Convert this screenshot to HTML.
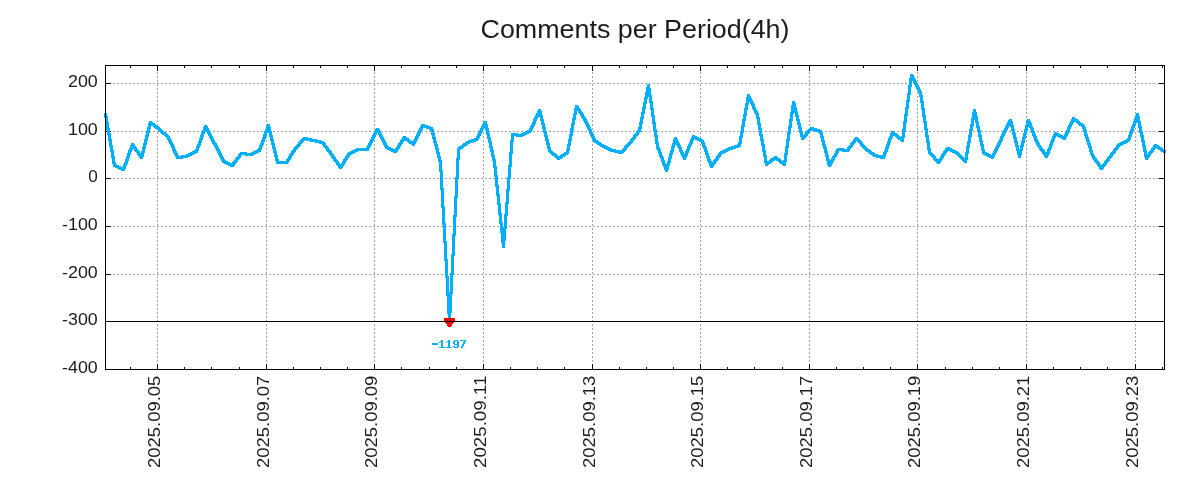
<!DOCTYPE html>
<html><head><meta charset="utf-8"><style>
html,body{margin:0;padding:0;background:#fff;}
svg{display:block;will-change:transform;}
.t{font-family:"Liberation Sans",sans-serif;font-size:17px;fill:#1c1c1c;}
.g{stroke:#a0a0a0;stroke-width:1;stroke-dasharray:2 2;}
</style></head><body>
<svg width="1200" height="500" viewBox="0 0 1200 500">
<rect width="1200" height="500" fill="#fff"/>
<text x="635" y="37.8" text-anchor="middle" style="font-family:'Liberation Sans',sans-serif;font-size:25.5px;fill:#1c1c1c" textLength="309" lengthAdjust="spacingAndGlyphs">Comments per Period(4h)</text>
<g shape-rendering="crispEdges">
<line x1="113" y1="83.5" x2="1159" y2="83.5" class="g"/>
<line x1="113" y1="131.5" x2="1159" y2="131.5" class="g"/>
<line x1="113" y1="178.5" x2="1159" y2="178.5" class="g"/>
<line x1="113" y1="226.5" x2="1159" y2="226.5" class="g"/>
<line x1="113" y1="274.5" x2="1159" y2="274.5" class="g"/>
<line x1="157.5" y1="72" x2="157.5" y2="364" class="g"/>
<line x1="266.5" y1="72" x2="266.5" y2="364" class="g"/>
<line x1="374.5" y1="72" x2="374.5" y2="364" class="g"/>
<line x1="483.5" y1="72" x2="483.5" y2="364" class="g"/>
<line x1="592.5" y1="72" x2="592.5" y2="364" class="g"/>
<line x1="700.5" y1="72" x2="700.5" y2="364" class="g"/>
<line x1="809.5" y1="72" x2="809.5" y2="364" class="g"/>
<line x1="917.5" y1="72" x2="917.5" y2="364" class="g"/>
<line x1="1026.5" y1="72" x2="1026.5" y2="364" class="g"/>
<line x1="1135.5" y1="72" x2="1135.5" y2="364" class="g"/>
</g>
<g fill="#000" shape-rendering="crispEdges">
<rect x="105" y="83" width="6" height="1"/><rect x="1159" y="83" width="6" height="1"/>
<rect x="105" y="131" width="6" height="1"/><rect x="1159" y="131" width="6" height="1"/>
<rect x="105" y="178" width="6" height="1"/><rect x="1159" y="178" width="6" height="1"/>
<rect x="105" y="226" width="6" height="1"/><rect x="1159" y="226" width="6" height="1"/>
<rect x="105" y="274" width="6" height="1"/><rect x="1159" y="274" width="6" height="1"/>
<rect x="105" y="321" width="6" height="1"/><rect x="1159" y="321" width="6" height="1"/>
<rect x="105" y="369" width="6" height="1"/><rect x="1159" y="369" width="6" height="1"/>
<rect x="130" y="367" width="1" height="3"/><rect x="130" y="65" width="1" height="3"/>
<rect x="157" y="364" width="1" height="6"/><rect x="157" y="65" width="1" height="6"/>
<rect x="184" y="367" width="1" height="3"/><rect x="184" y="65" width="1" height="3"/>
<rect x="211" y="367" width="1" height="3"/><rect x="211" y="65" width="1" height="3"/>
<rect x="239" y="367" width="1" height="3"/><rect x="239" y="65" width="1" height="3"/>
<rect x="266" y="364" width="1" height="6"/><rect x="266" y="65" width="1" height="6"/>
<rect x="293" y="367" width="1" height="3"/><rect x="293" y="65" width="1" height="3"/>
<rect x="320" y="367" width="1" height="3"/><rect x="320" y="65" width="1" height="3"/>
<rect x="347" y="367" width="1" height="3"/><rect x="347" y="65" width="1" height="3"/>
<rect x="374" y="364" width="1" height="6"/><rect x="374" y="65" width="1" height="6"/>
<rect x="401" y="367" width="1" height="3"/><rect x="401" y="65" width="1" height="3"/>
<rect x="429" y="367" width="1" height="3"/><rect x="429" y="65" width="1" height="3"/>
<rect x="456" y="367" width="1" height="3"/><rect x="456" y="65" width="1" height="3"/>
<rect x="483" y="364" width="1" height="6"/><rect x="483" y="65" width="1" height="6"/>
<rect x="510" y="367" width="1" height="3"/><rect x="510" y="65" width="1" height="3"/>
<rect x="537" y="367" width="1" height="3"/><rect x="537" y="65" width="1" height="3"/>
<rect x="564" y="367" width="1" height="3"/><rect x="564" y="65" width="1" height="3"/>
<rect x="592" y="364" width="1" height="6"/><rect x="592" y="65" width="1" height="6"/>
<rect x="619" y="367" width="1" height="3"/><rect x="619" y="65" width="1" height="3"/>
<rect x="646" y="367" width="1" height="3"/><rect x="646" y="65" width="1" height="3"/>
<rect x="673" y="367" width="1" height="3"/><rect x="673" y="65" width="1" height="3"/>
<rect x="700" y="364" width="1" height="6"/><rect x="700" y="65" width="1" height="6"/>
<rect x="727" y="367" width="1" height="3"/><rect x="727" y="65" width="1" height="3"/>
<rect x="754" y="367" width="1" height="3"/><rect x="754" y="65" width="1" height="3"/>
<rect x="782" y="367" width="1" height="3"/><rect x="782" y="65" width="1" height="3"/>
<rect x="809" y="364" width="1" height="6"/><rect x="809" y="65" width="1" height="6"/>
<rect x="836" y="367" width="1" height="3"/><rect x="836" y="65" width="1" height="3"/>
<rect x="863" y="367" width="1" height="3"/><rect x="863" y="65" width="1" height="3"/>
<rect x="890" y="367" width="1" height="3"/><rect x="890" y="65" width="1" height="3"/>
<rect x="917" y="364" width="1" height="6"/><rect x="917" y="65" width="1" height="6"/>
<rect x="945" y="367" width="1" height="3"/><rect x="945" y="65" width="1" height="3"/>
<rect x="972" y="367" width="1" height="3"/><rect x="972" y="65" width="1" height="3"/>
<rect x="999" y="367" width="1" height="3"/><rect x="999" y="65" width="1" height="3"/>
<rect x="1026" y="364" width="1" height="6"/><rect x="1026" y="65" width="1" height="6"/>
<rect x="1053" y="367" width="1" height="3"/><rect x="1053" y="65" width="1" height="3"/>
<rect x="1080" y="367" width="1" height="3"/><rect x="1080" y="65" width="1" height="3"/>
<rect x="1107" y="367" width="1" height="3"/><rect x="1107" y="65" width="1" height="3"/>
<rect x="1135" y="364" width="1" height="6"/><rect x="1135" y="65" width="1" height="6"/>
<rect x="1162" y="367" width="1" height="3"/><rect x="1162" y="65" width="1" height="3"/>
</g>
<path d="M104 113h1v5h-1zM105 113h1v11h-1zM106 113h1v17h-1zM107 116h1v19h-1zM108 122h1v19h-1zM109 128h1v19h-1zM110 133h1v19h-1zM111 139h1v19h-1zM112 145h1v19h-1zM113 150h1v17h-1zM114 156h1v11h-1zM115 162h1v6h-1zM116 164h1v4h-1zM117 165h1v4h-1zM118 165h1v4h-1zM119 166h1v4h-1zM120 166h1v4h-1zM121 167h1v4h-1zM122 167h1v4h-1zM123 164h1v7h-1zM124 162h1v9h-1zM125 159h1v10h-1zM126 156h1v10h-1zM127 153h1v11h-1zM128 150h1v11h-1zM129 148h1v10h-1zM130 145h1v10h-1zM131 143h1v9h-1zM132 143h1v7h-1zM133 143h1v6h-1zM134 144h1v7h-1zM135 146h1v6h-1zM136 147h1v6h-1zM137 149h1v6h-1zM138 150h1v6h-1zM139 151h1v7h-1zM140 153h1v6h-1zM141 151h1v8h-1zM142 147h1v12h-1zM143 143h1v14h-1zM144 139h1v14h-1zM145 135h1v14h-1zM146 131h1v14h-1zM147 127h1v14h-1zM148 123h1v14h-1zM149 121h1v12h-1zM150 121h1v8h-1zM151 121h1v5h-1zM152 122h1v4h-1zM153 123h1v4h-1zM154 123h1v5h-1zM155 124h1v5h-1zM156 125h1v4h-1zM157 126h1v4h-1zM158 126h1v5h-1zM159 127h1v5h-1zM160 128h1v5h-1zM161 129h1v5h-1zM162 130h1v5h-1zM163 131h1v4h-1zM164 132h1v4h-1zM165 132h1v5h-1zM166 133h1v5h-1zM167 134h1v6h-1zM168 135h1v7h-1zM169 136h1v8h-1zM170 138h1v8h-1zM171 140h1v8h-1zM172 142h1v9h-1zM173 144h1v9h-1zM174 146h1v9h-1zM175 149h1v8h-1zM176 151h1v8h-1zM177 153h1v6h-1zM178 155h1v4h-1zM179 156h1v3h-1zM180 156h1v3h-1zM181 155h1v4h-1zM182 155h1v4h-1zM183 155h1v3h-1zM184 155h1v3h-1zM185 155h1v3h-1zM186 154h1v4h-1zM187 154h1v4h-1zM188 153h1v4h-1zM189 153h1v4h-1zM190 152h1v4h-1zM191 152h1v4h-1zM192 151h1v4h-1zM193 151h1v4h-1zM194 150h1v4h-1zM195 149h1v5h-1zM196 146h1v7h-1zM197 144h1v9h-1zM198 141h1v10h-1zM199 138h1v10h-1zM200 135h1v11h-1zM201 132h1v11h-1zM202 130h1v10h-1zM203 127h1v10h-1zM204 125h1v9h-1zM205 125h1v7h-1zM206 125h1v7h-1zM207 126h1v8h-1zM208 128h1v8h-1zM209 130h1v8h-1zM210 132h1v8h-1zM211 134h1v8h-1zM212 136h1v8h-1zM213 138h1v7h-1zM214 140h1v7h-1zM215 142h1v7h-1zM216 143h1v8h-1zM217 145h1v8h-1zM218 147h1v8h-1zM219 149h1v8h-1zM220 151h1v8h-1zM221 153h1v8h-1zM222 155h1v8h-1zM223 157h1v6h-1zM224 159h1v5h-1zM225 160h1v4h-1zM226 161h1v4h-1zM227 161h1v4h-1zM228 162h1v4h-1zM229 162h1v4h-1zM230 163h1v4h-1zM231 163h1v4h-1zM232 162h1v5h-1zM233 161h1v6h-1zM234 160h1v6h-1zM235 158h1v6h-1zM236 157h1v6h-1zM237 156h1v6h-1zM238 154h1v6h-1zM239 153h1v6h-1zM240 152h1v6h-1zM241 152h1v4h-1zM242 152h1v3h-1zM243 152h1v3h-1zM244 152h1v3h-1zM245 152h1v4h-1zM246 152h1v4h-1zM247 153h1v3h-1zM248 153h1v3h-1zM249 153h1v3h-1zM250 153h1v3h-1zM251 152h1v4h-1zM252 152h1v4h-1zM253 151h1v4h-1zM254 151h1v4h-1zM255 150h1v4h-1zM256 150h1v4h-1zM257 149h1v4h-1zM258 148h1v5h-1zM259 145h1v7h-1zM260 143h1v9h-1zM261 140h1v10h-1zM262 137h1v10h-1zM263 134h1v11h-1zM264 131h1v11h-1zM265 129h1v10h-1zM266 126h1v10h-1zM267 124h1v9h-1zM268 124h1v9h-1zM269 124h1v13h-1zM270 127h1v14h-1zM271 131h1v14h-1zM272 135h1v14h-1zM273 139h1v14h-1zM274 143h1v14h-1zM275 147h1v14h-1zM276 151h1v13h-1zM277 155h1v9h-1zM278 159h1v5h-1zM279 161h1v3h-1zM280 161h1v3h-1zM281 161h1v3h-1zM282 161h1v3h-1zM283 161h1v3h-1zM284 161h1v3h-1zM285 161h1v3h-1zM286 159h1v5h-1zM287 158h1v6h-1zM288 156h1v7h-1zM289 154h1v7h-1zM290 153h1v7h-1zM291 151h1v7h-1zM292 150h1v6h-1zM293 148h1v7h-1zM294 147h1v6h-1zM295 146h1v6h-1zM296 145h1v5h-1zM297 144h1v5h-1zM298 142h1v6h-1zM299 141h1v6h-1zM300 140h1v6h-1zM301 139h1v5h-1zM302 138h1v5h-1zM303 137h1v5h-1zM304 137h1v4h-1zM305 137h1v3h-1zM306 137h1v4h-1zM307 137h1v4h-1zM308 138h1v3h-1zM309 138h1v3h-1zM310 138h1v4h-1zM311 138h1v4h-1zM312 139h1v3h-1zM313 139h1v3h-1zM314 139h1v3h-1zM315 139h1v4h-1zM316 139h1v4h-1zM317 140h1v3h-1zM318 140h1v3h-1zM319 140h1v4h-1zM320 140h1v4h-1zM321 141h1v3h-1zM322 141h1v4h-1zM323 141h1v6h-1zM324 142h1v6h-1zM325 143h1v6h-1zM326 145h1v6h-1zM327 146h1v6h-1zM328 147h1v6h-1zM329 149h1v6h-1zM330 150h1v6h-1zM331 151h1v7h-1zM332 153h1v6h-1zM333 154h1v7h-1zM334 156h1v6h-1zM335 157h1v6h-1zM336 159h1v6h-1zM337 160h1v6h-1zM338 161h1v7h-1zM339 163h1v6h-1zM340 164h1v5h-1zM341 163h1v6h-1zM342 161h1v7h-1zM343 159h1v7h-1zM344 158h1v7h-1zM345 156h1v7h-1zM346 155h1v6h-1zM347 153h1v7h-1zM348 152h1v6h-1zM349 152h1v5h-1zM350 151h1v4h-1zM351 151h1v4h-1zM352 150h1v4h-1zM353 150h1v4h-1zM354 149h1v4h-1zM355 149h1v4h-1zM356 148h1v4h-1zM357 148h1v4h-1zM358 148h1v3h-1zM359 148h1v3h-1zM360 148h1v3h-1zM361 148h1v3h-1zM362 148h1v3h-1zM363 148h1v3h-1zM364 148h1v3h-1zM365 148h1v3h-1zM366 147h1v4h-1zM367 145h1v6h-1zM368 143h1v8h-1zM369 141h1v8h-1zM370 139h1v8h-1zM371 137h1v8h-1zM372 135h1v8h-1zM373 133h1v8h-1zM374 131h1v8h-1zM375 129h1v8h-1zM376 128h1v7h-1zM377 128h1v5h-1zM378 128h1v7h-1zM379 129h1v8h-1zM380 131h1v8h-1zM381 133h1v8h-1zM382 135h1v8h-1zM383 137h1v8h-1zM384 139h1v8h-1zM385 141h1v8h-1zM386 143h1v6h-1zM387 145h1v5h-1zM388 146h1v4h-1zM389 147h1v4h-1zM390 147h1v4h-1zM391 148h1v4h-1zM392 148h1v4h-1zM393 149h1v4h-1zM394 149h1v4h-1zM395 148h1v5h-1zM396 147h1v6h-1zM397 145h1v7h-1zM398 143h1v7h-1zM399 142h1v7h-1zM400 140h1v7h-1zM401 139h1v6h-1zM402 137h1v7h-1zM403 136h1v6h-1zM404 136h1v5h-1zM405 136h1v5h-1zM406 137h1v4h-1zM407 138h1v4h-1zM408 138h1v5h-1zM409 139h1v5h-1zM410 140h1v4h-1zM411 141h1v4h-1zM412 141h1v5h-1zM413 140h1v6h-1zM414 138h1v8h-1zM415 136h1v8h-1zM416 134h1v8h-1zM417 132h1v8h-1zM418 130h1v8h-1zM419 128h1v8h-1zM420 126h1v8h-1zM421 124h1v8h-1zM422 124h1v6h-1zM423 124h1v4h-1zM424 124h1v4h-1zM425 125h1v3h-1zM426 125h1v4h-1zM427 125h1v4h-1zM428 126h1v3h-1zM429 126h1v4h-1zM430 126h1v5h-1zM431 127h1v8h-1zM432 127h1v12h-1zM433 129h1v14h-1zM434 133h1v13h-1zM435 137h1v13h-1zM436 141h1v13h-1zM437 144h1v14h-1zM438 148h1v14h-1zM439 152h1v20h-1zM440 156h1v34h-1zM441 160h1v48h-1zM442 170h1v55h-1zM443 188h1v55h-1zM444 206h1v55h-1zM445 223h1v55h-1zM446 241h1v55h-1zM447 259h1v55h-1zM448 276h1v47h-1zM449 292h1v31h-1zM450 273h1v50h-1zM451 254h1v59h-1zM452 234h1v60h-1zM453 215h1v60h-1zM454 196h1v60h-1zM455 177h1v59h-1zM456 158h1v59h-1zM457 148h1v50h-1zM458 147h1v32h-1zM459 146h1v14h-1zM460 146h1v4h-1zM461 145h1v4h-1zM462 144h1v5h-1zM463 143h1v5h-1zM464 143h1v4h-1zM465 142h1v4h-1zM466 141h1v5h-1zM467 141h1v4h-1zM468 140h1v4h-1zM469 140h1v4h-1zM470 140h1v3h-1zM471 139h1v4h-1zM472 139h1v4h-1zM473 139h1v3h-1zM474 138h1v4h-1zM475 138h1v4h-1zM476 136h1v5h-1zM477 134h1v7h-1zM478 132h1v8h-1zM479 130h1v8h-1zM480 128h1v8h-1zM481 126h1v8h-1zM482 124h1v8h-1zM483 122h1v8h-1zM484 121h1v7h-1zM485 121h1v9h-1zM486 121h1v14h-1zM487 124h1v15h-1zM488 128h1v15h-1zM489 133h1v15h-1zM490 137h1v15h-1zM491 141h1v16h-1zM492 146h1v15h-1zM493 150h1v18h-1zM494 155h1v22h-1zM495 159h1v28h-1zM496 166h1v30h-1zM497 175h1v30h-1zM498 185h1v30h-1zM499 194h1v30h-1zM500 203h1v30h-1zM501 213h1v30h-1zM502 222h1v26h-1zM503 227h1v21h-1zM504 214h1v34h-1zM505 202h1v39h-1zM506 189h1v40h-1zM507 177h1v39h-1zM508 165h1v39h-1zM509 152h1v39h-1zM510 140h1v39h-1zM511 133h1v34h-1zM512 133h1v21h-1zM513 133h1v9h-1zM514 133h1v3h-1zM515 133h1v3h-1zM516 133h1v4h-1zM517 133h1v4h-1zM518 134h1v3h-1zM519 134h1v3h-1zM520 134h1v3h-1zM521 133h1v4h-1zM522 133h1v4h-1zM523 132h1v4h-1zM524 132h1v4h-1zM525 131h1v4h-1zM526 131h1v4h-1zM527 130h1v4h-1zM528 130h1v4h-1zM529 128h1v5h-1zM530 126h1v7h-1zM531 124h1v8h-1zM532 122h1v8h-1zM533 119h1v9h-1zM534 117h1v9h-1zM535 115h1v9h-1zM536 113h1v8h-1zM537 111h1v8h-1zM538 109h1v8h-1zM539 109h1v8h-1zM540 109h1v12h-1zM541 111h1v14h-1zM542 115h1v14h-1zM543 119h1v14h-1zM544 123h1v14h-1zM545 127h1v14h-1zM546 131h1v14h-1zM547 135h1v14h-1zM548 139h1v13h-1zM549 143h1v10h-1zM550 147h1v7h-1zM551 150h1v5h-1zM552 151h1v5h-1zM553 152h1v4h-1zM554 153h1v4h-1zM555 153h1v5h-1zM556 154h1v5h-1zM557 155h1v5h-1zM558 156h1v4h-1zM559 156h1v4h-1zM560 155h1v4h-1zM561 154h1v5h-1zM562 154h1v4h-1zM563 153h1v4h-1zM564 152h1v5h-1zM565 152h1v4h-1zM566 149h1v6h-1zM567 144h1v11h-1zM568 139h1v15h-1zM569 134h1v17h-1zM570 128h1v18h-1zM571 123h1v18h-1zM572 118h1v18h-1zM573 113h1v17h-1zM574 108h1v17h-1zM575 105h1v15h-1zM576 105h1v10h-1zM577 105h1v6h-1zM578 106h1v7h-1zM579 108h1v6h-1zM580 109h1v7h-1zM581 111h1v7h-1zM582 112h1v7h-1zM583 114h1v7h-1zM584 116h1v7h-1zM585 117h1v8h-1zM586 119h1v8h-1zM587 121h1v8h-1zM588 123h1v8h-1zM589 125h1v9h-1zM590 127h1v9h-1zM591 129h1v9h-1zM592 132h1v8h-1zM593 134h1v8h-1zM594 136h1v7h-1zM595 138h1v5h-1zM596 140h1v4h-1zM597 140h1v5h-1zM598 141h1v4h-1zM599 142h1v4h-1zM600 142h1v5h-1zM601 143h1v4h-1zM602 144h1v4h-1zM603 144h1v4h-1zM604 145h1v4h-1zM605 145h1v4h-1zM606 146h1v4h-1zM607 146h1v4h-1zM608 147h1v4h-1zM609 147h1v4h-1zM610 148h1v4h-1zM611 148h1v4h-1zM612 149h1v3h-1zM613 149h1v3h-1zM614 149h1v4h-1zM615 149h1v4h-1zM616 150h1v3h-1zM617 150h1v3h-1zM618 150h1v4h-1zM619 150h1v4h-1zM620 151h1v3h-1zM621 150h1v4h-1zM622 149h1v5h-1zM623 148h1v5h-1zM624 146h1v6h-1zM625 145h1v6h-1zM626 144h1v6h-1zM627 143h1v5h-1zM628 142h1v5h-1zM629 141h1v5h-1zM630 139h1v6h-1zM631 138h1v6h-1zM632 137h1v6h-1zM633 135h1v6h-1zM634 134h1v6h-1zM635 133h1v6h-1zM636 131h1v6h-1zM637 130h1v6h-1zM638 127h1v8h-1zM639 122h1v11h-1zM640 117h1v15h-1zM641 112h1v17h-1zM642 107h1v17h-1zM643 102h1v17h-1zM644 97h1v17h-1zM645 92h1v17h-1zM646 87h1v17h-1zM647 84h1v15h-1zM648 84h1v13h-1zM649 84h1v19h-1zM650 88h1v22h-1zM651 95h1v22h-1zM652 101h1v23h-1zM653 108h1v23h-1zM654 115h1v22h-1zM655 122h1v22h-1zM656 129h1v20h-1zM657 135h1v16h-1zM658 142h1v12h-1zM659 147h1v10h-1zM660 149h1v10h-1zM661 152h1v10h-1zM662 155h1v10h-1zM663 157h1v10h-1zM664 160h1v10h-1zM665 163h1v9h-1zM666 164h1v8h-1zM667 161h1v11h-1zM668 157h1v13h-1zM669 153h1v13h-1zM670 150h1v13h-1zM671 146h1v13h-1zM672 143h1v12h-1zM673 139h1v13h-1zM674 137h1v11h-1zM675 137h1v8h-1zM676 137h1v8h-1zM677 139h1v8h-1zM678 141h1v8h-1zM679 143h1v9h-1zM680 145h1v9h-1zM681 147h1v9h-1zM682 150h1v8h-1zM683 152h1v8h-1zM684 154h1v6h-1zM685 151h1v9h-1zM686 149h1v9h-1zM687 146h1v10h-1zM688 144h1v9h-1zM689 142h1v9h-1zM690 139h1v9h-1zM691 137h1v9h-1zM692 135h1v9h-1zM693 135h1v6h-1zM694 135h1v4h-1zM695 136h1v4h-1zM696 136h1v4h-1zM697 137h1v4h-1zM698 137h1v4h-1zM699 138h1v4h-1zM700 138h1v4h-1zM701 139h1v5h-1zM702 139h1v8h-1zM703 140h1v9h-1zM704 142h1v10h-1zM705 145h1v10h-1zM706 147h1v11h-1zM707 150h1v11h-1zM708 153h1v10h-1zM709 156h1v10h-1zM710 159h1v9h-1zM711 161h1v7h-1zM712 162h1v6h-1zM713 160h1v7h-1zM714 159h1v6h-1zM715 158h1v6h-1zM716 156h1v6h-1zM717 155h1v6h-1zM718 153h1v7h-1zM719 152h1v6h-1zM720 151h1v6h-1zM721 151h1v4h-1zM722 150h1v4h-1zM723 150h1v4h-1zM724 149h1v4h-1zM725 149h1v4h-1zM726 148h1v4h-1zM727 148h1v4h-1zM728 147h1v4h-1zM729 147h1v4h-1zM730 147h1v3h-1zM731 146h1v4h-1zM732 146h1v4h-1zM733 146h1v3h-1zM734 145h1v4h-1zM735 145h1v4h-1zM736 145h1v3h-1zM737 144h1v4h-1zM738 142h1v6h-1zM739 136h1v11h-1zM740 131h1v16h-1zM741 125h1v19h-1zM742 119h1v19h-1zM743 114h1v19h-1zM744 108h1v19h-1zM745 103h1v18h-1zM746 97h1v19h-1zM747 94h1v16h-1zM748 94h1v11h-1zM749 94h1v8h-1zM750 96h1v8h-1zM751 98h1v8h-1zM752 100h1v9h-1zM753 102h1v9h-1zM754 104h1v9h-1zM755 107h1v8h-1zM756 109h1v10h-1zM757 111h1v14h-1zM758 113h1v17h-1zM759 117h1v19h-1zM760 123h1v18h-1zM761 128h1v18h-1zM762 134h1v18h-1zM763 139h1v18h-1zM764 144h1v19h-1zM765 150h1v16h-1zM766 155h1v11h-1zM767 161h1v5h-1zM768 161h1v4h-1zM769 160h1v4h-1zM770 159h1v5h-1zM771 158h1v5h-1zM772 158h1v4h-1zM773 157h1v4h-1zM774 156h1v5h-1zM775 156h1v4h-1zM776 156h1v5h-1zM777 157h1v4h-1zM778 158h1v4h-1zM779 158h1v5h-1zM780 159h1v5h-1zM781 160h1v4h-1zM782 161h1v4h-1zM783 160h1v6h-1zM784 153h1v13h-1zM785 146h1v20h-1zM786 139h1v23h-1zM787 132h1v23h-1zM788 126h1v22h-1zM789 119h1v22h-1zM790 112h1v22h-1zM791 105h1v23h-1zM792 101h1v20h-1zM793 101h1v13h-1zM794 101h1v12h-1zM795 103h1v14h-1zM796 107h1v14h-1zM797 111h1v14h-1zM798 115h1v14h-1zM799 119h1v14h-1zM800 123h1v14h-1zM801 127h1v13h-1zM802 131h1v9h-1zM803 135h1v5h-1zM804 134h1v5h-1zM805 132h1v6h-1zM806 131h1v6h-1zM807 130h1v6h-1zM808 129h1v5h-1zM809 128h1v5h-1zM810 127h1v5h-1zM811 127h1v4h-1zM812 127h1v4h-1zM813 127h1v4h-1zM814 128h1v3h-1zM815 128h1v4h-1zM816 128h1v4h-1zM817 129h1v3h-1zM818 129h1v4h-1zM819 129h1v5h-1zM820 130h1v8h-1zM821 130h1v12h-1zM822 132h1v14h-1zM823 136h1v13h-1zM824 140h1v13h-1zM825 144h1v13h-1zM826 147h1v14h-1zM827 151h1v14h-1zM828 155h1v12h-1zM829 159h1v8h-1zM830 160h1v7h-1zM831 158h1v8h-1zM832 156h1v8h-1zM833 155h1v7h-1zM834 153h1v7h-1zM835 151h1v7h-1zM836 149h1v8h-1zM837 148h1v7h-1zM838 148h1v5h-1zM839 148h1v3h-1zM840 148h1v3h-1zM841 148h1v3h-1zM842 148h1v4h-1zM843 148h1v4h-1zM844 149h1v3h-1zM845 149h1v3h-1zM846 149h1v3h-1zM847 147h1v5h-1zM848 146h1v6h-1zM849 145h1v6h-1zM850 143h1v6h-1zM851 142h1v6h-1zM852 141h1v6h-1zM853 139h1v6h-1zM854 138h1v6h-1zM855 137h1v6h-1zM856 137h1v4h-1zM857 137h1v5h-1zM858 138h1v5h-1zM859 139h1v5h-1zM860 140h1v6h-1zM861 141h1v6h-1zM862 142h1v6h-1zM863 144h1v5h-1zM864 145h1v5h-1zM865 146h1v5h-1zM866 147h1v5h-1zM867 148h1v4h-1zM868 149h1v4h-1zM869 149h1v5h-1zM870 150h1v5h-1zM871 151h1v4h-1zM872 152h1v4h-1zM873 152h1v5h-1zM874 153h1v4h-1zM875 154h1v3h-1zM876 154h1v4h-1zM877 154h1v4h-1zM878 155h1v3h-1zM879 155h1v3h-1zM880 155h1v4h-1zM881 155h1v4h-1zM882 155h1v4h-1zM883 152h1v7h-1zM884 150h1v9h-1zM885 147h1v10h-1zM886 144h1v10h-1zM887 141h1v11h-1zM888 138h1v11h-1zM889 136h1v10h-1zM890 133h1v10h-1zM891 131h1v9h-1zM892 131h1v7h-1zM893 131h1v5h-1zM894 132h1v4h-1zM895 133h1v4h-1zM896 133h1v5h-1zM897 134h1v5h-1zM898 135h1v5h-1zM899 136h1v4h-1zM900 137h1v4h-1zM901 136h1v6h-1zM902 129h1v13h-1zM903 121h1v21h-1zM904 114h1v24h-1zM905 107h1v24h-1zM906 100h1v23h-1zM907 93h1v23h-1zM908 85h1v24h-1zM909 78h1v24h-1zM910 74h1v21h-1zM911 74h1v13h-1zM912 74h1v7h-1zM913 75h1v8h-1zM914 77h1v8h-1zM915 79h1v8h-1zM916 81h1v8h-1zM917 83h1v8h-1zM918 85h1v8h-1zM919 87h1v10h-1zM920 89h1v14h-1zM921 91h1v19h-1zM922 95h1v22h-1zM923 101h1v22h-1zM924 108h1v22h-1zM925 115h1v22h-1zM926 121h1v22h-1zM927 128h1v22h-1zM928 135h1v19h-1zM929 141h1v14h-1zM930 148h1v8h-1zM931 152h1v5h-1zM932 153h1v5h-1zM933 154h1v6h-1zM934 155h1v6h-1zM935 156h1v6h-1zM936 158h1v5h-1zM937 159h1v5h-1zM938 159h1v5h-1zM939 158h1v6h-1zM940 156h1v7h-1zM941 154h1v7h-1zM942 153h1v7h-1zM943 151h1v7h-1zM944 150h1v6h-1zM945 148h1v7h-1zM946 147h1v6h-1zM947 147h1v5h-1zM948 147h1v4h-1zM949 147h1v4h-1zM950 148h1v4h-1zM951 148h1v4h-1zM952 149h1v4h-1zM953 149h1v4h-1zM954 150h1v4h-1zM955 150h1v4h-1zM956 151h1v4h-1zM957 151h1v5h-1zM958 152h1v5h-1zM959 153h1v5h-1zM960 154h1v5h-1zM961 155h1v5h-1zM962 156h1v5h-1zM963 157h1v5h-1zM964 158h1v5h-1zM965 152h1v11h-1zM966 146h1v17h-1zM967 141h1v19h-1zM968 135h1v19h-1zM969 129h1v19h-1zM970 124h1v19h-1zM971 118h1v19h-1zM972 112h1v19h-1zM973 109h1v17h-1zM974 109h1v11h-1zM975 109h1v14h-1zM976 112h1v16h-1zM977 116h1v16h-1zM978 121h1v16h-1zM979 126h1v16h-1zM980 130h1v16h-1zM981 135h1v16h-1zM982 140h1v14h-1zM983 144h1v11h-1zM984 149h1v6h-1zM985 152h1v4h-1zM986 152h1v4h-1zM987 153h1v4h-1zM988 153h1v4h-1zM989 154h1v4h-1zM990 154h1v4h-1zM991 155h1v4h-1zM992 153h1v6h-1zM993 151h1v8h-1zM994 149h1v8h-1zM995 147h1v8h-1zM996 145h1v8h-1zM997 143h1v8h-1zM998 141h1v8h-1zM999 139h1v8h-1zM1000 136h1v9h-1zM1001 134h1v9h-1zM1002 132h1v9h-1zM1003 130h1v8h-1zM1004 128h1v8h-1zM1005 126h1v8h-1zM1006 124h1v8h-1zM1007 122h1v8h-1zM1008 120h1v8h-1zM1009 119h1v7h-1zM1010 119h1v8h-1zM1011 119h1v12h-1zM1012 121h1v14h-1zM1013 125h1v14h-1zM1014 129h1v14h-1zM1015 133h1v14h-1zM1016 137h1v14h-1zM1017 141h1v14h-1zM1018 145h1v13h-1zM1019 149h1v9h-1zM1020 145h1v13h-1zM1021 141h1v14h-1zM1022 137h1v14h-1zM1023 133h1v14h-1zM1024 129h1v14h-1zM1025 125h1v14h-1zM1026 121h1v14h-1zM1027 119h1v12h-1zM1028 119h1v8h-1zM1029 119h1v9h-1zM1030 121h1v9h-1zM1031 123h1v10h-1zM1032 126h1v10h-1zM1033 128h1v10h-1zM1034 131h1v10h-1zM1035 134h1v9h-1zM1036 136h1v9h-1zM1037 139h1v8h-1zM1038 141h1v7h-1zM1039 143h1v7h-1zM1040 145h1v6h-1zM1041 146h1v6h-1zM1042 148h1v6h-1zM1043 149h1v6h-1zM1044 150h1v7h-1zM1045 152h1v6h-1zM1046 152h1v6h-1zM1047 149h1v9h-1zM1048 147h1v9h-1zM1049 144h1v10h-1zM1050 141h1v10h-1zM1051 139h1v10h-1zM1052 136h1v10h-1zM1053 134h1v9h-1zM1054 132h1v9h-1zM1055 132h1v6h-1zM1056 132h1v4h-1zM1057 133h1v4h-1zM1058 133h1v4h-1zM1059 134h1v4h-1zM1060 134h1v4h-1zM1061 135h1v4h-1zM1062 135h1v4h-1zM1063 136h1v4h-1zM1064 134h1v6h-1zM1065 132h1v8h-1zM1066 130h1v8h-1zM1067 127h1v9h-1zM1068 125h1v9h-1zM1069 123h1v9h-1zM1070 121h1v8h-1zM1071 119h1v8h-1zM1072 117h1v8h-1zM1073 117h1v6h-1zM1074 117h1v5h-1zM1075 118h1v4h-1zM1076 119h1v4h-1zM1077 119h1v5h-1zM1078 120h1v5h-1zM1079 121h1v5h-1zM1080 122h1v4h-1zM1081 123h1v4h-1zM1082 123h1v6h-1zM1083 124h1v8h-1zM1084 125h1v11h-1zM1085 127h1v12h-1zM1086 130h1v12h-1zM1087 134h1v11h-1zM1088 137h1v11h-1zM1089 140h1v12h-1zM1090 143h1v12h-1zM1091 146h1v11h-1zM1092 150h1v9h-1zM1093 153h1v7h-1zM1094 155h1v7h-1zM1095 157h1v6h-1zM1096 158h1v6h-1zM1097 160h1v6h-1zM1098 161h1v6h-1zM1099 162h1v7h-1zM1100 164h1v6h-1zM1101 165h1v5h-1zM1102 164h1v6h-1zM1103 163h1v6h-1zM1104 161h1v6h-1zM1105 160h1v6h-1zM1106 159h1v6h-1zM1107 157h1v6h-1zM1108 156h1v6h-1zM1109 155h1v6h-1zM1110 153h1v6h-1zM1111 152h1v6h-1zM1112 151h1v6h-1zM1113 149h1v6h-1zM1114 148h1v6h-1zM1115 147h1v6h-1zM1116 145h1v6h-1zM1117 144h1v6h-1zM1118 143h1v6h-1zM1119 143h1v4h-1zM1120 142h1v4h-1zM1121 142h1v4h-1zM1122 141h1v4h-1zM1123 141h1v4h-1zM1124 140h1v4h-1zM1125 140h1v4h-1zM1126 139h1v4h-1zM1127 138h1v5h-1zM1128 135h1v7h-1zM1129 132h1v10h-1zM1130 129h1v11h-1zM1131 126h1v11h-1zM1132 124h1v10h-1zM1133 121h1v10h-1zM1134 118h1v10h-1zM1135 115h1v11h-1zM1136 113h1v10h-1zM1137 113h1v10h-1zM1138 113h1v15h-1zM1139 116h1v17h-1zM1140 121h1v16h-1zM1141 126h1v16h-1zM1142 131h1v16h-1zM1143 135h1v17h-1zM1144 140h1v17h-1zM1145 145h1v15h-1zM1146 150h1v10h-1zM1147 154h1v6h-1zM1148 152h1v7h-1zM1149 151h1v6h-1zM1150 150h1v6h-1zM1151 148h1v6h-1zM1152 147h1v6h-1zM1153 145h1v7h-1zM1154 144h1v6h-1zM1155 144h1v5h-1zM1156 144h1v4h-1zM1157 145h1v4h-1zM1158 145h1v5h-1zM1159 146h1v4h-1zM1160 147h1v4h-1zM1161 147h1v5h-1zM1162 148h1v4h-1zM1163 149h1v4h-1zM1164 149h1v4h-1zM1165 150h1v3h-1z" fill="#00b0ff" shape-rendering="crispEdges"/>
<g fill="#ff0000" shape-rendering="crispEdges"><rect x="444" y="318" width="11" height="1"/><rect x="444" y="319" width="11" height="1"/><rect x="444" y="320" width="11" height="1"/><rect x="445" y="322" width="9" height="1"/><rect x="446" y="323" width="7" height="1"/><rect x="447" y="324" width="5" height="1"/><rect x="447" y="325" width="5" height="1"/><rect x="448" y="326" width="3" height="1"/></g>
<g fill="#000" shape-rendering="crispEdges">
<rect x="105" y="321" width="1060" height="1"/>
<rect x="105" y="65" width="1060" height="1"/>
<rect x="105" y="369" width="1060" height="1"/>
<rect x="105" y="65" width="1" height="305"/>
<rect x="1164" y="65" width="1" height="305"/>
</g>
<g fill="#00b0ff" shape-rendering="crispEdges"><rect x="432" y="343" width="6" height="2"/><rect x="441" y="340" width="2" height="1"/><rect x="440" y="341" width="3" height="1"/><rect x="439" y="342" width="1" height="1"/><rect x="441" y="342" width="2" height="5"/><rect x="439" y="347" width="6" height="1"/><rect x="448" y="340" width="2" height="1"/><rect x="447" y="341" width="3" height="1"/><rect x="446" y="342" width="1" height="1"/><rect x="448" y="342" width="2" height="5"/><rect x="446" y="347" width="6" height="1"/><rect x="454" y="340" width="4" height="1"/><rect x="453" y="341" width="2" height="3"/><rect x="457" y="341" width="2" height="3"/><rect x="454" y="344" width="5" height="1"/><rect x="457" y="345" width="2" height="1"/><rect x="453" y="346" width="2" height="1"/><rect x="457" y="346" width="2" height="1"/><rect x="454" y="347" width="4" height="1"/><rect x="460" y="340" width="6" height="1"/><rect x="464" y="341" width="2" height="1"/><rect x="463" y="342" width="2" height="2"/><rect x="462" y="344" width="2" height="2"/><rect x="461" y="346" width="2" height="2"/></g>
<text x="97.8" y="87.1" text-anchor="end" class="t" textLength="29.85" lengthAdjust="spacingAndGlyphs">200</text>
<text x="97.8" y="135.1" text-anchor="end" class="t" textLength="29.85" lengthAdjust="spacingAndGlyphs">100</text>
<text x="97.8" y="182.1" text-anchor="end" class="t" textLength="9.55" lengthAdjust="spacingAndGlyphs">0</text>
<text x="97.8" y="230.1" text-anchor="end" class="t" textLength="35.7" lengthAdjust="spacingAndGlyphs">-100</text>
<text x="97.8" y="278.1" text-anchor="end" class="t" textLength="35.7" lengthAdjust="spacingAndGlyphs">-200</text>
<text x="97.8" y="325.1" text-anchor="end" class="t" textLength="35.7" lengthAdjust="spacingAndGlyphs">-300</text>
<text x="97.8" y="373.1" text-anchor="end" class="t" textLength="35.7" lengthAdjust="spacingAndGlyphs">-400</text>
<text transform="translate(159.8,468.0) rotate(-90)" class="t" textLength="92.3" lengthAdjust="spacingAndGlyphs">2025.09.05</text>
<text transform="translate(268.8,468.0) rotate(-90)" class="t" textLength="92.3" lengthAdjust="spacingAndGlyphs">2025.09.07</text>
<text transform="translate(376.8,468.0) rotate(-90)" class="t" textLength="92.3" lengthAdjust="spacingAndGlyphs">2025.09.09</text>
<text transform="translate(485.8,468.0) rotate(-90)" class="t" textLength="92.3" lengthAdjust="spacingAndGlyphs">2025.09.11</text>
<text transform="translate(594.8,468.0) rotate(-90)" class="t" textLength="92.3" lengthAdjust="spacingAndGlyphs">2025.09.13</text>
<text transform="translate(702.8,468.0) rotate(-90)" class="t" textLength="92.3" lengthAdjust="spacingAndGlyphs">2025.09.15</text>
<text transform="translate(811.8,468.0) rotate(-90)" class="t" textLength="92.3" lengthAdjust="spacingAndGlyphs">2025.09.17</text>
<text transform="translate(919.8,468.0) rotate(-90)" class="t" textLength="92.3" lengthAdjust="spacingAndGlyphs">2025.09.19</text>
<text transform="translate(1028.8,468.0) rotate(-90)" class="t" textLength="92.3" lengthAdjust="spacingAndGlyphs">2025.09.21</text>
<text transform="translate(1137.8,468.0) rotate(-90)" class="t" textLength="92.3" lengthAdjust="spacingAndGlyphs">2025.09.23</text>
</svg>
</body></html>
